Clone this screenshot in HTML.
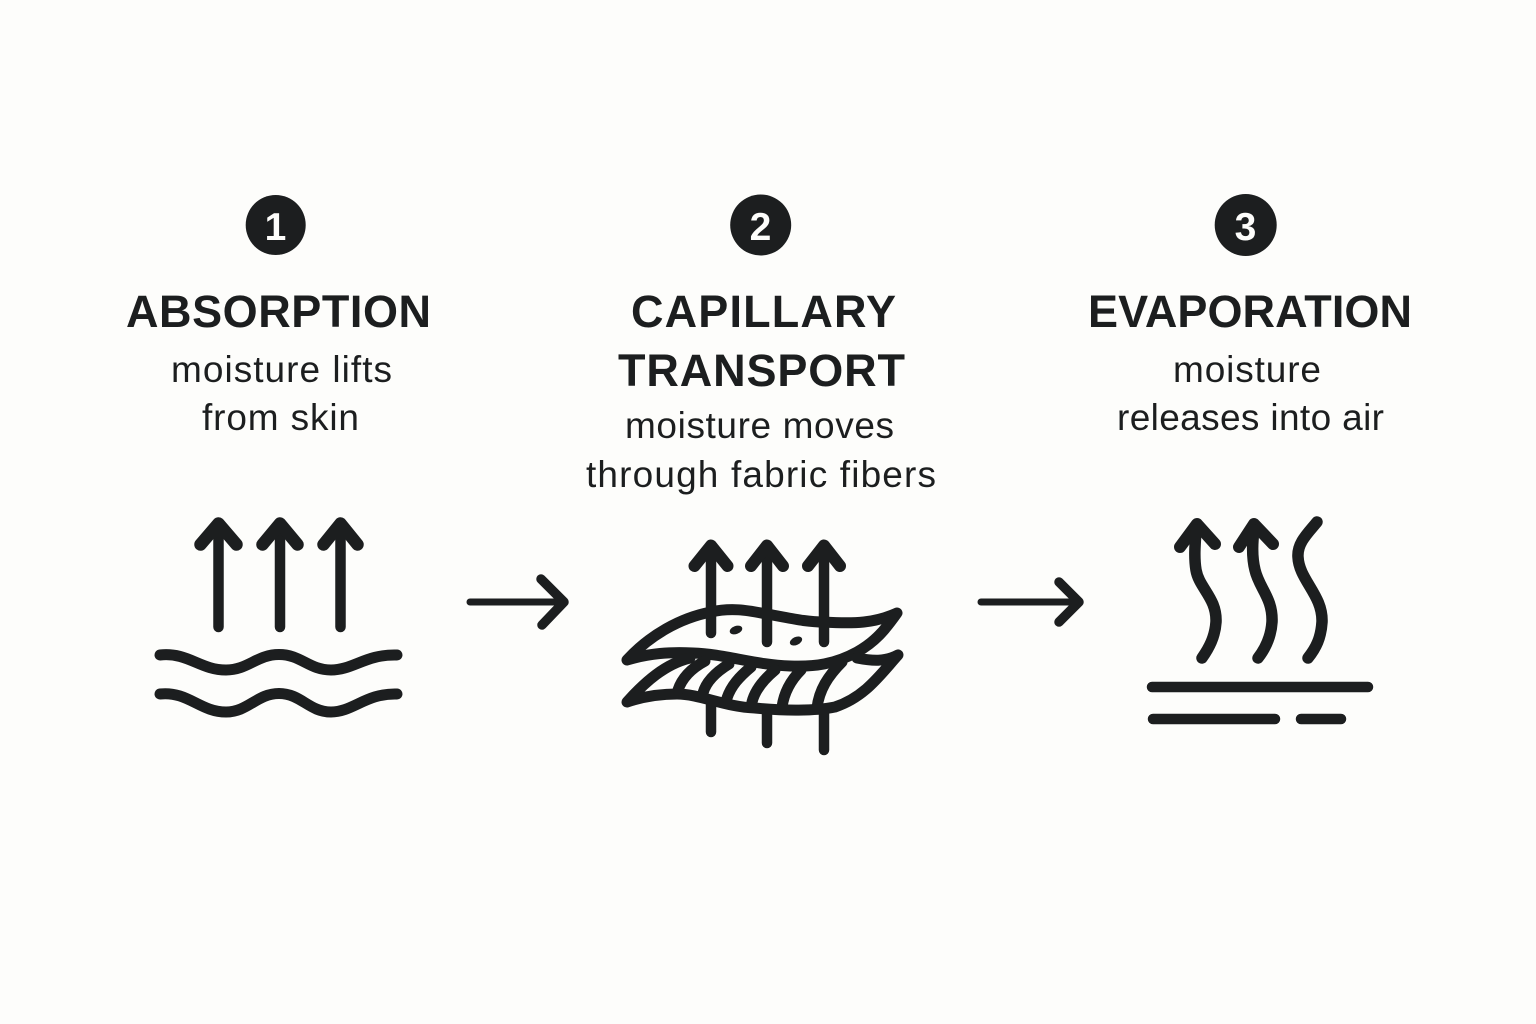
<!DOCTYPE html>
<html lang="en">
<head>
<meta charset="utf-8">
<title>Moisture wicking process</title>
<style>
html,body{margin:0;padding:0;background:#fdfdfb;}
svg{display:block;}
.t{font-family:"Liberation Sans",sans-serif;font-weight:700;font-size:45px;fill:#1c1e1f;}
.b{font-family:"Liberation Sans",sans-serif;font-weight:400;font-size:37px;fill:#1c1e1f;}
.n{font-family:"Liberation Sans",sans-serif;font-weight:700;font-size:39px;fill:#fdfdfb;text-anchor:middle;}
.s{fill:none;stroke:#1c1e1f;stroke-linecap:round;stroke-linejoin:round;}
</style>
</head>
<body>
<svg width="1536" height="1024" viewBox="0 0 1536 1024" xmlns="http://www.w3.org/2000/svg">
<rect width="1536" height="1024" fill="#fdfdfb"/>

<circle cx="275.7" cy="225" r="30" fill="#1c1e1f"/>
<circle cx="760.7" cy="225" r="30.5" fill="#1c1e1f"/>
<circle cx="1245.7" cy="225" r="31" fill="#1c1e1f"/>
<text class="n" x="275.5" y="240">1</text>
<text class="n" x="760.5" y="240">2</text>
<text class="n" x="1245.5" y="240">3</text>

<text class="t" x="126" y="327" textLength="305" lengthAdjust="spacing">ABSORPTION</text>
<text class="b" x="171" y="382" textLength="221" lengthAdjust="spacing">moisture lifts</text>
<text class="b" x="202" y="430" textLength="157" lengthAdjust="spacing">from skin</text>

<text class="t" x="631" y="327" textLength="265" lengthAdjust="spacing">CAPILLARY</text>
<text class="t" x="618" y="386" textLength="287" lengthAdjust="spacing">TRANSPORT</text>
<text class="b" x="625" y="438" textLength="269" lengthAdjust="spacing">moisture moves</text>
<text class="b" x="586" y="487" textLength="350" lengthAdjust="spacing">through fabric fibers</text>

<text class="t" x="1088" y="327" textLength="324" lengthAdjust="spacing">EVAPORATION</text>
<text class="b" x="1173" y="382" textLength="148" lengthAdjust="spacing">moisture</text>
<text class="b" x="1117" y="430" textLength="267" lengthAdjust="spacing">releases into air</text>

<!-- Icon 1 -->
<g class="s" stroke-width="10.5">
<path d="M218.500 527V627M280 527V627M340.500 527V627"/>
</g>
<g class="s" stroke-width="12.500">
<path d="M200.500 544.500L218.500 523.500L236.500 544.500"/>
<path d="M262.500 544.500L280 523.500L297.500 544.500"/>
<path d="M323.500 544.500L340.500 523.500L357.500 544.500"/>
</g>
<g class="s" stroke-width="11">
<path d="M160 655C188 652 200 670 226 670C248 670 257 654.500 279 654.500C301 654.500 309 670 331 670C353 670 366 654 397 655"/>
<path d="M160 694C188 691 200 712 226 712C248 712 257 693.500 279 693.500C301 693.500 309 712 331 712C353 712 366 693 397 694"/>
</g>

<!-- Connectors -->
<g class="s" stroke-width="7">
<path d="M470 602H560M981 602H1076"/>
</g>
<g class="s" stroke-width="9.500">
<path d="M541 579L564 602L542 625"/>
<path d="M1059 582L1079 602L1059 622"/>
</g>

<!-- Icon 2 -->
<g class="s" stroke-width="10.500">
<path d="M711 549V633M767 549V642M824 549V642"/>
<path d="M711 700V732M767 712V743M824 712V750"/>
</g>
<g class="s" stroke-width="12">
<path d="M694.500 566L711 545.500L727.500 566"/>
<path d="M751 566L767 545.500L783 566"/>
<path d="M808 566L824 545.500L840 566"/>
</g>
<g class="s" stroke-width="11">
<path d="M627 660C650 635 680 618 711 612C733 607 750 611 767 614C790 618 805 622 824 622C855 624 875 623 897 613C885 630 875 642 857 652C835 664 815 667 790 666C755 665 725 654 693 653C670 652 650 653 627 660Z"/>
<path d="M690 658C665 664 645 682 627 702C645 696 660 694 677 694C700 694 725 707 755 708C785 711 815 711 835 707C865 697 880 675 898 655C885 662 872 661 857 658"/>
<path d="M705 661C692 668 682 678 678 690"/>
<path d="M729 664C716 672 706 682 703 693"/>
<path d="M751 667C739 677 731 686 727 698"/>
<path d="M775 670C763 680 755 690 752 702"/>
<path d="M801 670C790 681 784 693 782 707"/>
<path d="M842 662C828 676 819 690 817 708"/>
</g>
<ellipse cx="736" cy="630" rx="6.500" ry="4" fill="#1c1e1f" transform="rotate(-20 736 630)"/>
<ellipse cx="796" cy="641" rx="6.500" ry="4" fill="#1c1e1f" transform="rotate(-25 796 641)"/>

<!-- Icon 3 -->
<g class="s" stroke-width="12">
<path d="M1180 547L1197 524L1215 544"/>
<path d="M1239 547L1254 524L1273 544"/>
</g>
<g class="s" stroke-width="11.500">
<path d="M1196 530C1195 545 1194 558 1196 570C1199 588 1217 598 1216 622C1215 637 1209 648 1202 658"/>
<path d="M1254 530C1252 545 1252 558 1255 570C1259 588 1273 598 1272 622C1271 637 1265 649 1258 658"/>
<path d="M1317 522C1308 533 1297 543 1298 557C1299 580 1323 595 1322 622C1321 638 1316 648 1308 658"/>
</g>
<g class="s" stroke-width="10.500">
<path d="M1152 687H1368M1153 719H1275M1301 719H1341"/>
</g>
</svg>
</body>
</html>
